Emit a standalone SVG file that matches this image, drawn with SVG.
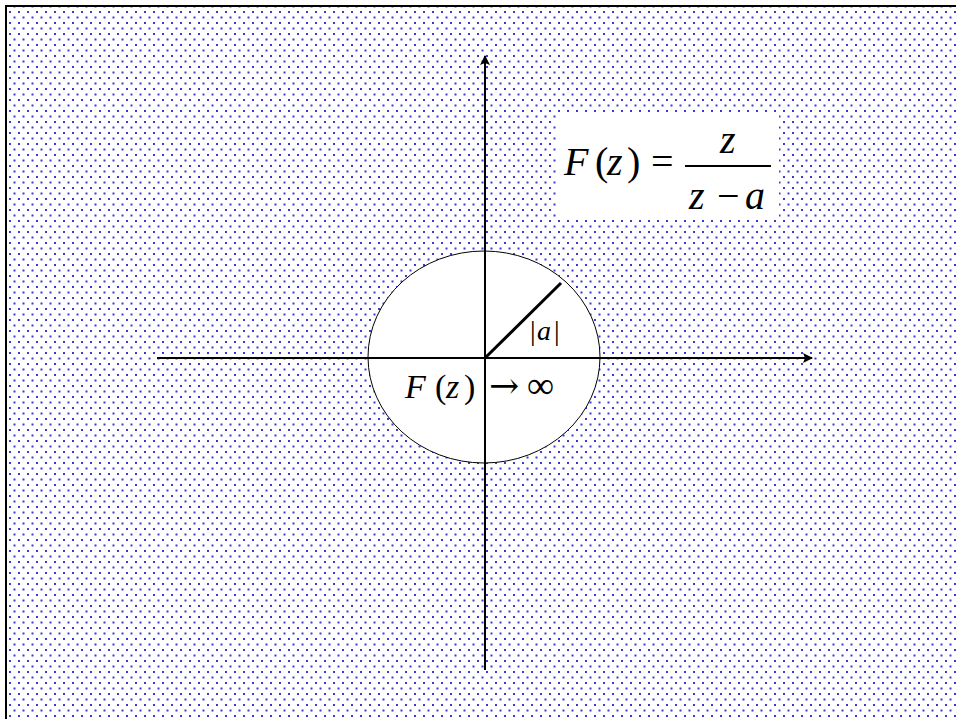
<svg xmlns="http://www.w3.org/2000/svg" width="956" height="719" viewBox="0 0 956 719">
<defs>
<pattern id="dots" x="0" y="0" width="9" height="11" patternUnits="userSpaceOnUse">
<rect x="0" y="0" width="2" height="2" fill="#3a3ad8"/>
<rect x="4.5" y="5.5" width="2" height="2" fill="#3a3ad8"/>
</pattern>
<marker id="arr" viewBox="0 0 10 10" refX="9" refY="5" markerWidth="10" markerHeight="10" markerUnits="userSpaceOnUse" orient="auto">
<path d="M0,0 L10,5 L0,10 L2,5 z" fill="#000"/>
</marker>
<style>
.m{font-family:"Liberation Serif","Times New Roman",serif;fill:#000}
.i{font-style:italic}
.ar{font-family:"DejaVu Serif","DejaVu Sans",serif}
</style>
</defs>
<rect x="0" y="0" width="956" height="719" fill="#fff"/>
<rect x="6" y="6" width="950" height="713" fill="url(#dots)"/>
<path d="M6,719 V6 H956" fill="none" stroke="#000" stroke-width="2"/>
<g id="formula-box">
<rect x="557" y="112" width="222" height="106" fill="#fff"/>
<text class="m" y="175" font-size="40"><tspan x="564" class="i">F</tspan><tspan x="595">(</tspan><tspan x="607" class="i">z</tspan><tspan x="627">)</tspan><tspan x="651">=</tspan></text>
<text class="m i" x="720" y="153" font-size="40">z</text>
<line x1="685" y1="166" x2="771" y2="166" stroke="#000" stroke-width="2"/>
<text class="m" y="209" font-size="40"><tspan x="689" class="i">z</tspan><tspan x="717">−</tspan><tspan x="745" class="i">a</tspan></text>
</g>
<g id="disk">
<ellipse cx="484" cy="357" rx="116" ry="106" fill="#fff" stroke="#000" stroke-width="1"/>
</g>
<g id="connectors">
<line x1="485" y1="670" x2="485" y2="56" stroke="#000" stroke-width="2" marker-end="url(#arr)"/>
<line x1="157" y1="358" x2="812" y2="358" stroke="#000" stroke-width="2" marker-end="url(#arr)"/>
<line x1="485" y1="358" x2="561" y2="283" stroke="#000" stroke-width="3"/>
</g>
<g id="labels">
<text class="m" y="340" font-size="28"><tspan x="530">|</tspan><tspan x="537" class="i">a</tspan><tspan x="554">|</tspan></text>
<text class="m" y="398" font-size="34"><tspan x="405" class="i">F</tspan><tspan x="435">(</tspan><tspan x="446" class="i">z</tspan><tspan x="464">)</tspan></text>
<text class="m" y="398" font-size="38"><tspan x="489" class="ar" font-size="36">→</tspan><tspan x="527">∞</tspan></text>
</g>
</svg>
